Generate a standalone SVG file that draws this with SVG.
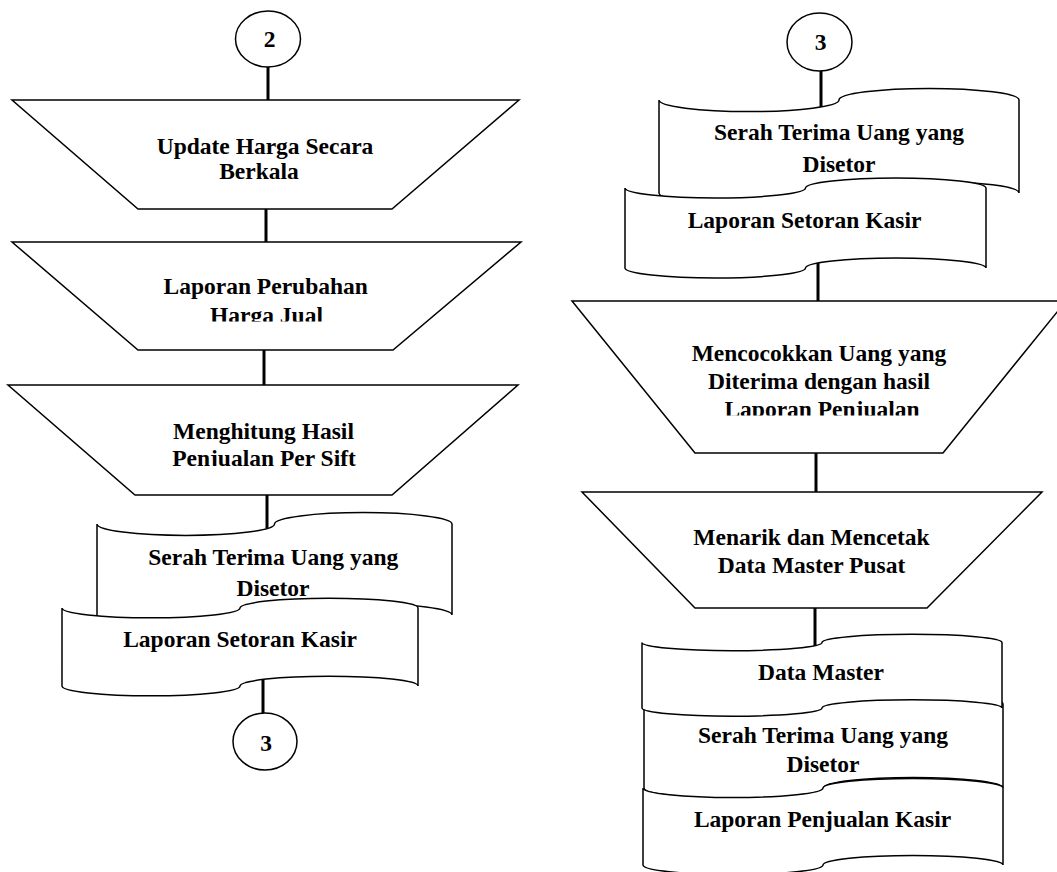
<svg xmlns="http://www.w3.org/2000/svg" width="1057" height="872" viewBox="0 0 1057 872">
<style>
.bg{fill:#ffffff}
.shape{fill:#ffffff;stroke:#000000;stroke-width:1.5;stroke-linejoin:miter}
.conn{stroke:#000000;stroke-width:3;fill:none}
.t{font-family:"Liberation Serif","Times New Roman",serif;font-weight:bold;font-size:23.5px;fill:#000000;text-anchor:middle}
</style>
<defs>
<clipPath id="clipT2"><rect x="0" y="230" width="530" height="91.5"/></clipPath>
<clipPath id="clipT3"><rect x="0" y="380" width="530" height="86"/></clipPath>
<clipPath id="clipT4"><rect x="560" y="300" width="497" height="115.5"/></clipPath>
</defs>
<rect class="bg" x="0" y="0" width="1057" height="872"/>
<g id="connectors">
<line class="conn" x1="268" y1="60" x2="268" y2="104"/>
<line class="conn" x1="266" y1="205" x2="266" y2="246"/>
<line class="conn" x1="264" y1="346" x2="264" y2="389"/>
<line class="conn" x1="267" y1="491" x2="267" y2="532"/>
<line class="conn" x1="263" y1="675" x2="263" y2="720"/>
<line class="conn" x1="821" y1="64" x2="821" y2="112"/>
<line class="conn" x1="818" y1="258" x2="818" y2="305"/>
<line class="conn" x1="816" y1="449" x2="816" y2="496"/>
<line class="conn" x1="815" y1="604" x2="815" y2="650"/>
</g>
<g id="c2">
<ellipse class="shape" cx="268" cy="39" rx="32.5" ry="28"/>
<text class="t" x="269.5" y="47">2</text>
</g>
<g id="t1">
<polygon class="shape" points="12,100 519,100 392,209 138,209"/>
<text class="t" x="265" y="154">Update Harga Secara</text>
<text class="t" x="259" y="179">Berkala</text>
</g>
<g id="t2">
<polygon class="shape" points="12,242 521,242 393,350 138,350"/>
<g clip-path="url(#clipT2)">
<text class="t" x="265.7" y="293.5">Laporan Perubahan</text>
<text class="t" x="266.5" y="323">Harga Jual</text>
</g>
</g>
<g id="t3">
<polygon class="shape" points="8,385 518,385 392,495 135,495"/>
<g clip-path="url(#clipT3)">
<text class="t" x="263.5" y="439">Menghitung Hasil</text>
<text class="t" x="264" y="465.6">Penjualan Per Sift</text>
</g>
</g>
<g id="d1">
<path class="shape" d="M97,524 A88.75,11.4 0 0 0 274.5,524 A88.75,11.4 0 0 1 452,524 L452,615 A88.75,11.4 0 0 0 274.5,615 A88.75,11.4 0 0 1 97,615 Z"/>
<text class="t" x="273.3" y="565">Serah Terima Uang yang</text>
<text class="t" x="273" y="596">Disetor</text>
</g>
<g id="d2">
<path class="shape" d="M62,608 A89,9.75 0 0 0 240,608 A89,9.75 0 0 1 418,608 L418,686 A89,9.75 0 0 0 240,686 A89,9.75 0 0 1 62,686 Z"/>
<text class="t" x="240" y="647">Laporan Setoran Kasir</text>
</g>
<g id="c3a">
<ellipse class="shape" cx="265" cy="741.5" rx="32" ry="28.5"/>
<text class="t" x="266" y="751">3</text>
</g>
<g id="c3b">
<ellipse class="shape" cx="819.5" cy="42" rx="32.5" ry="29"/>
<text class="t" x="820.5" y="49.5">3</text>
</g>
<g id="d3">
<path class="shape" d="M659,100 A90,11.6 0 0 0 839,100 A90,11.6 0 0 1 1019,100 L1019,193 A90,11.6 0 0 0 839,193 A90,11.6 0 0 1 659,193 Z"/>
<text class="t" x="839" y="140">Serah Terima Uang yang</text>
<text class="t" x="839" y="172">Disetor</text>
</g>
<g id="d4">
<path class="shape" d="M625,188 A90.25,10 0 0 0 805.5,188 A90.25,10 0 0 1 986,188 L986,268 A90.25,10 0 0 0 805.5,268 A90.25,10 0 0 1 625,268 Z"/>
<text class="t" x="804.5" y="228">Laporan Setoran Kasir</text>
</g>
<g id="t4">
<polygon class="shape" points="572,301 1066,301 943,453 695,453"/>
<g clip-path="url(#clipT4)">
<text class="t" x="819" y="361">Mencocokkan Uang yang</text>
<text class="t" x="819" y="388.5">Diterima dengan hasil</text>
<text class="t" x="822" y="417">Laporan Penjualan</text>
</g>
</g>
<g id="t5">
<polygon class="shape" points="582,492 1042,492 927,608 695,608"/>
<text class="t" x="811.5" y="545">Menarik dan Mencetak</text>
<text class="t" x="811.5" y="573">Data Master Pusat</text>
</g>
<g id="d6">
<path class="shape" d="M644,704 A89.75,10.5 0 0 0 823.5,704 A89.75,10.5 0 0 1 1003,704 L1003,788 A89.75,10.5 0 0 0 823.5,788 A89.75,10.5 0 0 1 644,788 Z"/>
<text class="t" x="823" y="743">Serah Terima Uang yang</text>
<text class="t" x="823" y="772">Disetor</text>
</g>
<g id="d5">
<path class="shape" d="M642,642.5 A90,8.2 0 0 0 822,642.5 A90,8.2 0 0 1 1002,642.5 L1002,708 A90,8.2 0 0 0 822,708 A90,8.2 0 0 1 642,708 Z"/>
<text class="t" x="821" y="680">Data Master</text>
</g>
<g id="d7">
<path class="shape" d="M643,788 A90,9.6 0 0 0 823,788 A90,9.6 0 0 1 1003,788 L1003,865 A90,9.6 0 0 0 823,865 A90,9.6 0 0 1 643,865 Z"/>
<text class="t" x="822.5" y="827">Laporan Penjualan Kasir</text>
</g>
</svg>
